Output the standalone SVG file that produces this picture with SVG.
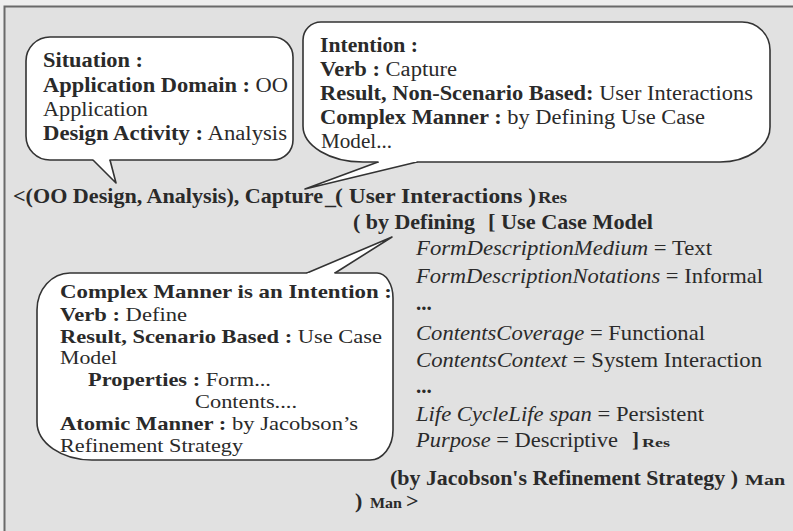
<svg xmlns="http://www.w3.org/2000/svg" width="793" height="531" viewBox="0 0 793 531">
  <style>
    .outer { fill: #eeeeee; }
    .panel { fill: #e1e1e1; stroke: #6a6a6a; stroke-width: 2; }
    .bubble { fill: #ffffff; stroke: #333333; stroke-width: 1.6; stroke-linejoin: round; stroke-linecap: round; }
    .tail { fill: none; stroke: #333333; stroke-width: 1.6; stroke-linejoin: round; stroke-linecap: round; }
    .tail-fill { fill: #ffffff; stroke: none; }
    text { font-family: "Liberation Serif", "Times New Roman", serif; fill: #2a2a2a; }
    .note { font-size: 20.5px; }
    .note-sm { font-size: 19px; }
    .expr { font-size: 22px; font-weight: bold; }
    .prop { font-size: 21px; }
    .b { font-weight: bold; }
    .i { font-style: italic; }
    .sub { font-weight: bold; }
  </style>

  <!-- page and framed panel -->
  <rect class="outer" x="0" y="0" width="793" height="531"/>
  <rect class="panel" x="4.5" y="6.5" width="800" height="540"/>

  <!-- speech-bubble tails pointing at parts of the expression -->
  <g id="connectors">
    <path class="tail-fill" d="M93,160 L116,183 L110,160 L110,154 L93,154 Z"/>
    <path class="tail" d="M93,160 L116,183 L110,160"/>
    <path class="tail-fill" d="M378,162 L305,189 L417,162 L417,156 L378,156 Z"/>
    <path class="tail" d="M378,162 L305,189 L417,162"/>
    <path class="tail-fill" d="M307,273 L392,237 L335,273 L335,279 L307,279 Z"/>
    <path class="tail" d="M307,273 L392,237 L335,273"/>
  </g>

  <!-- Situation callout -->
  <g id="situation">
    <path class="bubble" d="M110,160 H273 A20,20 0 0 0 293,140 V57 A20,20 0 0 0 273,37 H50 A24,24 0 0 0 26,61 V136 A24,24 0 0 0 50,160 H93"/>
    <text class="note b" x="43" y="67" textLength="100" lengthAdjust="spacingAndGlyphs">Situation :</text>
    <text class="note" x="43" y="92" textLength="245" lengthAdjust="spacingAndGlyphs"><tspan class="b">Application Domain :</tspan> OO</text>
    <text class="note" x="43" y="116" textLength="105" lengthAdjust="spacingAndGlyphs">Application</text>
    <text class="note" x="43" y="140" textLength="244" lengthAdjust="spacingAndGlyphs"><tspan class="b">Design Activity :</tspan> Analysis</text>
  </g>

  <!-- Intention callout -->
  <g id="intention">
    <path class="bubble" d="M417,162 H720 A50,35 0 0 0 770,127 V50 A28,28 0 0 0 742,22 H321 A18,18 0 0 0 303,40 V126 A60,36 0 0 0 363,162 H378"/>
    <text class="note b" x="320" y="52" textLength="98" lengthAdjust="spacingAndGlyphs">Intention :</text>
    <text class="note" x="320" y="76" textLength="137" lengthAdjust="spacingAndGlyphs"><tspan class="b">Verb :</tspan> Capture</text>
    <text class="note" x="320" y="100" textLength="433" lengthAdjust="spacingAndGlyphs"><tspan class="b">Result, Non-Scenario Based:</tspan> User Interactions</text>
    <text class="note" x="320" y="124" textLength="385" lengthAdjust="spacingAndGlyphs"><tspan class="b">Complex Manner :</tspan> by Defining Use Case</text>
    <text class="note" x="321" y="148" textLength="71" lengthAdjust="spacingAndGlyphs">Model...</text>
  </g>

  <!-- Complex Manner callout -->
  <g id="complex-manner">
    <path class="bubble" d="M307,273 H70 A33,37 0 0 0 37,310 V422 A55,38 0 0 0 92,460 H370 A23,30 0 0 0 393,430 V298 A16,25 0 0 0 377,273 H335"/>
    <text class="note-sm b" x="60" y="298" textLength="332" lengthAdjust="spacingAndGlyphs">Complex Manner is an Intention :</text>
    <text class="note-sm" x="60" y="321" textLength="127" lengthAdjust="spacingAndGlyphs"><tspan class="b">Verb :</tspan> Define</text>
    <text class="note-sm" x="60" y="343" textLength="322" lengthAdjust="spacingAndGlyphs"><tspan class="b">Result, Scenario Based :</tspan> Use Case</text>
    <text class="note-sm" x="60" y="364" textLength="57" lengthAdjust="spacingAndGlyphs">Model</text>
    <text class="note-sm" x="88" y="386" textLength="183" lengthAdjust="spacingAndGlyphs"><tspan class="b">Properties :</tspan> Form...</text>
    <text class="note-sm" x="195" y="408" textLength="102" lengthAdjust="spacingAndGlyphs">Contents....</text>
    <text class="note-sm" x="60" y="430" textLength="298" lengthAdjust="spacingAndGlyphs"><tspan class="b">Atomic Manner :</tspan> by Jacobson’s</text>
    <text class="note-sm" x="60" y="452" textLength="183" lengthAdjust="spacingAndGlyphs">Refinement Strategy</text>
  </g>

  <!-- the map expression itself -->
  <g id="expression">
    <text class="expr" x="13" y="203" textLength="310" lengthAdjust="spacingAndGlyphs">&lt;(OO Design, Analysis), Capture</text>
    <text class="expr" x="325" y="204" font-size="11">_</text>
    <text class="expr" x="335" y="203" textLength="201" lengthAdjust="spacingAndGlyphs">( User Interactions )</text>
    <text class="sub" x="538" y="203" font-size="16" textLength="29" lengthAdjust="spacingAndGlyphs">Res</text>

    <text class="expr" x="353" y="229" textLength="122" lengthAdjust="spacingAndGlyphs">( by Defining</text>
    <text class="expr" x="488" y="229" textLength="165" lengthAdjust="spacingAndGlyphs">[ Use Case Model</text>

    <text class="prop" x="416" y="255" textLength="296" lengthAdjust="spacingAndGlyphs"><tspan class="i">FormDescriptionMedium</tspan> = Text</text>
    <text class="prop" x="416" y="283" textLength="347" lengthAdjust="spacingAndGlyphs"><tspan class="i">FormDescriptionNotations</tspan> = Informal</text>
    <text class="prop b" x="416" y="310">...</text>
    <text class="prop" x="416" y="340" textLength="289" lengthAdjust="spacingAndGlyphs"><tspan class="i">ContentsCoverage</tspan> = Functional</text>
    <text class="prop" x="416" y="367" textLength="346" lengthAdjust="spacingAndGlyphs"><tspan class="i">ContentsContext</tspan> = System Interaction</text>
    <text class="prop b" x="416" y="393">...</text>
    <text class="prop" x="416" y="421" textLength="288" lengthAdjust="spacingAndGlyphs"><tspan class="i">Life CycleLife span</tspan> = Persistent</text>
    <text class="prop" x="416" y="447" textLength="202" lengthAdjust="spacingAndGlyphs"><tspan class="i">Purpose</tspan> = Descriptive</text>
    <text class="prop b" x="632" y="447">]</text>
    <text class="sub" x="642" y="447" font-size="13" textLength="28" lengthAdjust="spacingAndGlyphs">Res</text>

    <text class="expr" x="390" y="485" textLength="348" lengthAdjust="spacingAndGlyphs">(by Jacobson's Refinement Strategy )</text>
    <text class="sub" x="745" y="485" font-size="14" textLength="40" lengthAdjust="spacingAndGlyphs">Man</text>

    <text class="expr" x="355" y="508">)</text>
    <text class="sub" x="370" y="508" font-size="14" textLength="32" lengthAdjust="spacingAndGlyphs">Man</text>
    <text class="expr" x="406" y="508">&gt;</text>
  </g>
</svg>
